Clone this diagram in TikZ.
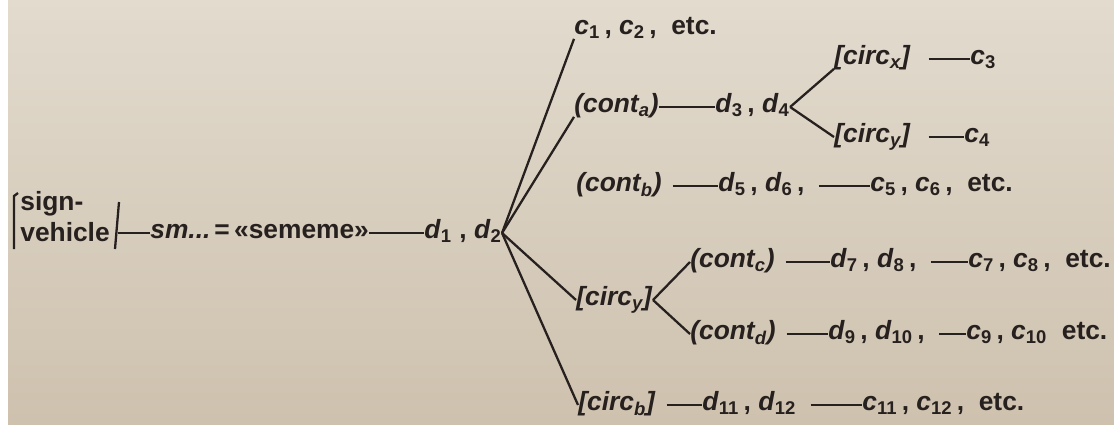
\documentclass[tikz,border=0pt]{standalone}
\usepackage{fontspec}
\setmainfont{Liberation Sans}
\definecolor{ink}{RGB}{38,32,30}
\definecolor{paperhi}{RGB}{226,219,206}
\definecolor{paperlo}{RGB}{206,193,174}
\tikzset{
  lbl/.style={anchor=west, inner sep=0pt, text=ink, text height=1.6ex, text depth=.45ex,
    font=\fontsize{15}{17}\selectfont\bfseries},
  rule/.style={draw=ink, line width=1.3pt}
}
\newcommand{\sbs}[1]{\textsubscript{#1}}
\begin{document}
\begin{tikzpicture}[x=0.02cm, y=-0.02cm]
    \useasboundingbox (0,0) rectangle (1114,424);
    %fondo carta
    \shade[top color=paperhi, bottom color=paperlo] (8,0) rectangle (1114,424);
    %significante
    \node[lbl] (sign) at (20,205) {sign-};
    \node[lbl] (vehicle) at (20,236) {vehicle};
    \draw[rule] (18,193)--(14,196)--(14,249);
    \draw[rule] (119,202)--(115,249);
    \coordinate (vm) at (118,233);
    %riga principale
    \node[lbl] (sm) at (150,233) {\textit{sm...}};
    \node[lbl] (sem) at (214,233) {=\,«sememe»};
    \node[lbl] (d12) at (424,233) {\textit{d}\sbs{1} , \textit{d}\sbs{2}};
    \draw[rule] (vm)--(sm.west);
    \draw[rule] (sem.east)--(d12.west);
    %rami
    \node[lbl] (c12) at (574,29) {\textit{c}\sbs{1}\,, \textit{c}\sbs{2}\,, \ etc.};
    \node[lbl] (conta) at (574,107) {\textit{(cont\sbs{a})}};
    \node[lbl] (contb) at (576,186) {\textit{(cont\sbs{b})}};
    \node[lbl] (circa) at (576,300) {\textit{[circ\sbs{y}]}};
    \node[lbl] (circb) at (578,405) {\textit{[circ\sbs{b}]}};
    \draw[rule] (d12.east)--(c12.south west);
    \draw[rule] (d12.east)--(conta.south west);
    \draw[rule] (d12.east)--(circa.west);
    \draw[rule] (d12.east)--(circb.west);
    %cont a
    \node[lbl] (d34) at (715,107) {\textit{d}\sbs{3}\,, \textit{d}\sbs{4}};
    \node[lbl] (circx) at (834,59) {\textit{[circ\sbs{x}]}};
    \node[lbl] (c3) at (970,59) {\textit{c}\sbs{3}};
    \node[lbl] (circz) at (834,137) {\textit{[circ\sbs{y}]}};
    \node[lbl] (c4) at (964,137) {\textit{c}\sbs{4}};
    \draw[rule] (conta.east)--(d34.west);
    \draw[rule] (d34.east)--(circx.south west);
    \draw[rule] (d34.east)--(circz.west);
    \draw[rule] ([xshift=10pt]circx.east)--(c3.west);
    \draw[rule] ([xshift=10pt]circz.east)--(c4.west);
    %cont b
    \node[lbl] (d56) at (718,186) {\textit{d}\sbs{5}\,, \textit{d}\sbs{6}\,,};
    \node[lbl] (c56) at (870,186) {\textit{c}\sbs{5}\,, \textit{c}\sbs{6}\,, \ etc.};
    \draw[rule] ([xshift=6pt]contb.east)--(d56.west);
    \draw[rule] ([xshift=8pt]d56.east)--(c56.west);
    %circ y
    \node[lbl] (contc) at (690,262) {\textit{(cont\sbs{c})}};
    \node[lbl] (contd) at (690,334) {\textit{(cont\sbs{d})}};
    \draw[rule] (circa.east)--(contc.west);
    \draw[rule] (circa.east)--(contd.west);
    \node[lbl] (d78) at (830,262) {\textit{d}\sbs{7}\,, \textit{d}\sbs{8}\,,};
    \node[lbl] (c78) at (968,262) {\textit{c}\sbs{7}\,, \textit{c}\sbs{8}\,, \ etc.};
    \node[lbl] (d910) at (828,334) {\textit{d}\sbs{9}\,, \textit{d}\sbs{10}\,,};
    \node[lbl] (c910) at (966,334) {\textit{c}\sbs{9}\,, \textit{c}\sbs{10} \ etc.};
    \draw[rule] ([xshift=6pt]contc.east)--(d78.west);
    \draw[rule] ([xshift=8pt]d78.east)--(c78.west);
    \draw[rule] ([xshift=6pt]contd.east)--(d910.west);
    \draw[rule] ([xshift=8pt]d910.east)--(c910.west);
    %circ b
    \node[lbl] (d1112) at (702,405) {\textit{d}\sbs{11}\,, \textit{d}\sbs{12}};
    \node[lbl] (c1112) at (862,405) {\textit{c}\sbs{11}\,, \textit{c}\sbs{12}\,, \ etc.};
    \draw[rule] ([xshift=6pt]circb.east)--(d1112.west);
    \draw[rule] ([xshift=8pt]d1112.east)--(c1112.west);
\end{tikzpicture}
\end{document}
